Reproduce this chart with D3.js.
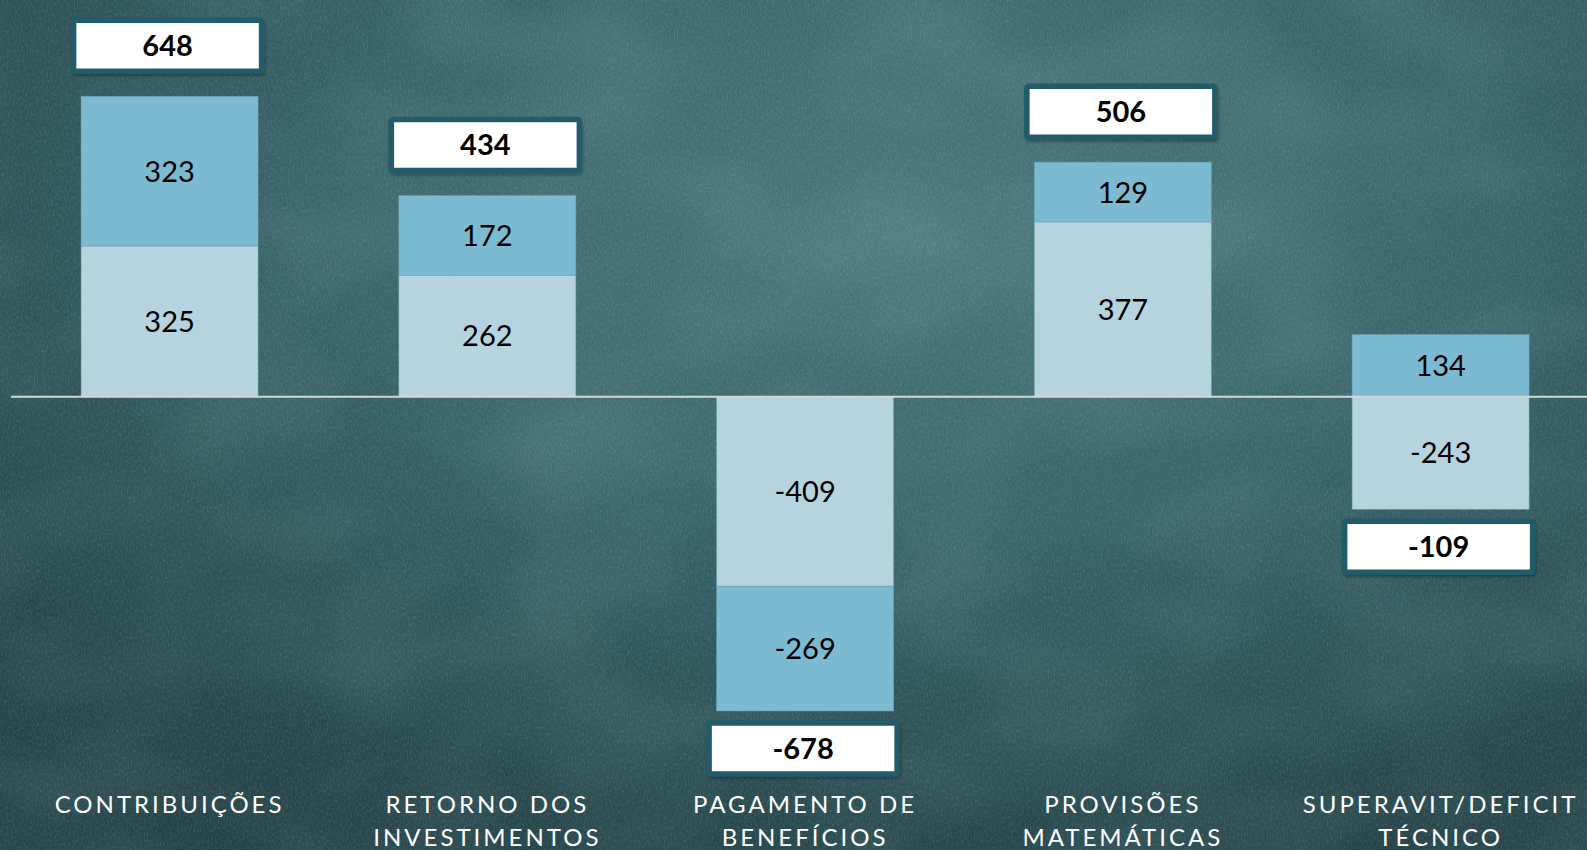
<!DOCTYPE html>
<html>
<head>
<meta charset="utf-8">
<script src="https://cdn.jsdelivr.net/npm/d3@7"></script>
<style>
  html, body { margin: 0; padding: 0; background: #2c4e54; }
  svg { display: block; }
</style>
</head>
<body>
<svg id="chart" width="1587" height="850"></svg>
<script>
// ---- data ----
const categories = ["CONTRIBUIÇÕES", "RETORNO DOS INVESTIMENTOS", "PAGAMENTO DE BENEFÍCIOS", "PROVISÕES MATEMÁTICAS", "SUPERAVIT/DEFICIT TÉCNICO"];
const categoryLines = [["CONTRIBUIÇÕES"], ["RETORNO DOS", "INVESTIMENTOS"], ["PAGAMENTO DE", "BENEFÍCIOS"], ["PROVISÕES", "MATEMÁTICAS"], ["SUPERAVIT/DEFICIT", "TÉCNICO"]];
const seriesA = [325, 262, -409, 377, -243];   // light segment (next to zero)
const seriesB = [323, 172, -269, 129, 134];    // darker segment
const totals = [648, 434, -678, 506, -109];
const seriesKeys = ["a", "b"];
const seriesColors = ["#b6d4df", "#7bbad0"];

// ---- setup ----
const W = 1587, H = 850;
const svg = d3.select("#chart");
const defs = svg.append("defs");

// background gradient + texture
const rg = defs.append("radialGradient").attr("id", "bg")
  .attr("cx", "58%").attr("cy", "25%").attr("r", "80%");
rg.append("stop").attr("offset", "0%").attr("stop-color", "#4a787d");
rg.append("stop").attr("offset", "45%").attr("stop-color", "#39656b");
rg.append("stop").attr("offset", "100%").attr("stop-color", "#254449");

const noise = defs.append("filter").attr("id", "noise").attr("x", 0).attr("y", 0).attr("width", "100%").attr("height", "100%");
noise.append("feTurbulence").attr("type", "fractalNoise").attr("baseFrequency", "0.7 0.3").attr("numOctaves", 3).attr("seed", 4);
noise.append("feColorMatrix").attr("type", "matrix")
  .attr("values", "0 0 0 0 0.8  0 0 0 0 0.9  0 0 0 0 0.9  0 0 0 1.3 -0.55");

const noise2 = defs.append("filter").attr("id", "noise2").attr("x", 0).attr("y", 0).attr("width", "100%").attr("height", "100%");
noise2.append("feTurbulence").attr("type", "fractalNoise").attr("baseFrequency", "0.006 0.01").attr("numOctaves", 2).attr("seed", 9);
noise2.append("feColorMatrix").attr("type", "matrix")
  .attr("values", "0 0 0 0 0.5  0 0 0 0 0.7  0 0 0 0 0.72  0 0 0 1.2 -0.45");

const shadow = defs.append("filter").attr("id", "shadow").attr("x", "-10%").attr("y", "-10%").attr("width", "130%").attr("height", "140%");
shadow.append("feDropShadow").attr("dx", 1).attr("dy", 2).attr("stdDeviation", 1.5).attr("flood-color", "#000").attr("flood-opacity", 0.3);

svg.append("rect").attr("width", W).attr("height", H).attr("fill", "url(#bg)");
svg.append("rect").attr("width", W).attr("height", H).attr("filter", "url(#noise2)").attr("opacity", 0.18);
svg.append("rect").attr("width", W).attr("height", H).attr("filter", "url(#noise)").attr("opacity", 0.2);

// ---- scales ----
const x = d3.scaleBand().domain(categories).range([10.7, 1599.5])
  .paddingInner(0.443).paddingOuter(0.2215);
const pxPerUnit = 0.4635, zeroY = 396.7;
const y = d3.scaleLinear().domain([-800, 850]).range([zeroY + 800 * pxPerUnit, zeroY - 850 * pxPerUnit]);

const rows = categories.map((c, i) => ({ cat: c, a: seriesA[i], b: seriesB[i] }));
const stacked = d3.stack().keys(seriesKeys).offset(d3.stackOffsetDiverging)(rows);

const font = "Lato, 'Open Sans', sans-serif";

// bars
stacked.forEach((s, si) => {
  const g = svg.append("g");
  g.selectAll("rect").data(s).join("rect")
    .attr("x", d => x(d.data.cat))
    .attr("width", x.bandwidth())
    .attr("y", d => y(Math.max(d[0], d[1])))
    .attr("height", d => Math.abs(y(d[0]) - y(d[1])))
    .attr("fill", seriesColors[si])
    .attr("stroke", "#6fa3b5").attr("stroke-width", 0.8).attr("stroke-opacity", 0.6);
  g.selectAll("text").data(s).join("text")
    .attr("x", d => x(d.data.cat) + x.bandwidth() / 2)
    .attr("y", d => y((d[0] + d[1]) / 2))
    .attr("dy", "0.36em")
    .attr("text-anchor", "middle")
    .attr("font-family", font).attr("font-size", 29).attr("fill", "#000")
    .text(d => d.data[s.key]);
});

// zero line
svg.append("line").attr("x1", 11).attr("x2", W).attr("y1", y(0)).attr("y2", y(0))
  .attr("stroke", "#d6d6d6").attr("stroke-width", 2);

// total boxes
const boxW = 188, boxH = 51;
categories.forEach((c, i) => {
  const top = Math.max(0, seriesA[i]) + Math.max(0, seriesB[i]);
  const bot = Math.min(0, seriesA[i]) + Math.min(0, seriesB[i]);
  const cx = x(c) + x.bandwidth() / 2 - 2;
  let by;
  if (totals[i] >= 0) by = y(top) - 25 - boxH;
  else by = y(bot) + 12;
  const g = svg.append("g").attr("filter", "url(#shadow)");
  g.append("rect").attr("x", cx - boxW / 2).attr("y", by).attr("width", boxW).attr("height", boxH)
    .attr("fill", "#fff").attr("stroke", "#215b6a").attr("stroke-width", 5.5).attr("rx", 1.5);
  svg.append("text").attr("x", cx).attr("y", by + boxH / 2).attr("dy", "0.36em")
    .attr("text-anchor", "middle").attr("font-family", font).attr("font-weight", 700)
    .attr("font-size", 29).attr("fill", "#000").text(totals[i]);
});

// category labels
categories.forEach((c, i) => {
  const t = svg.append("text")
    .attr("x", x(c) + x.bandwidth() / 2)
    .attr("y", 813)
    .attr("text-anchor", "middle")
    .attr("font-family", font).attr("font-size", 24)
    .attr("letter-spacing", "3px").attr("fill", "#ffffff");
  categoryLines[i].forEach((ln, k) => {
    t.append("tspan").attr("x", x(c) + x.bandwidth() / 2).attr("dy", k === 0 ? 0 : 33).text(ln);
  });
});
</script>
</body>
</html>
